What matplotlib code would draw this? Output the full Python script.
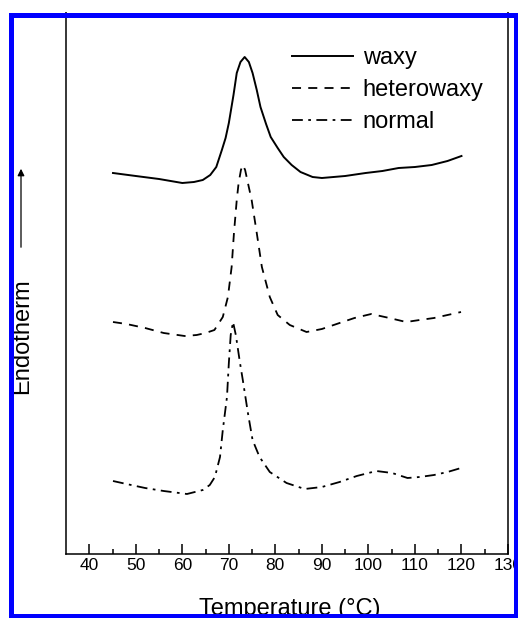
import numpy as np
import matplotlib.pyplot as plt
from matplotlib.patches import Rectangle

plt.rcParams['font.family'] = ['Liberation Sans', 'DejaVu Sans']

# DSC thermograms, heat flow in arbitrary units
waxy_T = [45.1, 50, 55, 60, 62.5, 64.4, 66, 67.3, 68.5, 69.3, 70, 71, 71.7, 72.5, 73.4,
          74.3, 75.1, 76, 76.8, 78, 79, 80.5, 81.8, 83.5, 85.4, 88, 90, 95, 99.4, 103,
          106.5, 110, 113.6, 117, 120]
waxy_hf = [381, 378, 375, 371, 372, 374, 379, 387, 404, 416, 431, 459, 481, 492, 497,
           492, 481, 464, 447, 430, 417, 406, 397, 389, 382, 377, 376, 378, 381, 383,
           386, 387, 389, 393, 398]

hetero_T = [45.1, 48, 52, 56, 60.5, 63.1, 65, 66.9, 68.7, 69.8, 70.6, 71.1, 71.7, 72.1,
            72.6, 73.0, 73.5, 74.1, 74.9, 76.0, 77.1, 78.8, 80.5, 83.1, 86.7, 90, 93.8,
            97, 100.6, 104.5, 108.1, 111, 114.1, 117, 119.9]
hetero_hf = [232, 230, 226, 221, 218, 219, 221, 224, 237, 257, 287, 321, 354, 371,
             384, 389, 384, 371, 354, 321, 287, 257, 239, 229, 222, 225, 231,
             236, 240, 236, 232, 234, 236, 239, 242]

normal_T = [45.1, 48, 52, 56, 61, 64.4, 65.9, 67, 68.1, 68.7, 69.6, 70, 70.4, 70.9, 71.5,
            72.4, 73, 74.1, 75.1, 76.6, 78.8, 82.4, 86.3, 90, 93.8, 97.5, 101.7, 105.1,
            108.4, 111, 114.1, 117, 119.9]
normal_hf = [73, 70, 66, 63, 60, 64, 69, 77, 97, 124, 157, 191, 219, 232, 219,
             191, 174, 141, 114, 97, 82, 71, 65, 67, 72, 78, 83, 81,
             76, 77, 79, 82, 86]

W, H = 518, 618
fig = plt.figure(figsize=(W / 100, H / 100), dpi=100)

def fx(px):
    return px / W

def fy(py):
    return 1 - py / H

ax = fig.add_axes([fx(66), fy(554), fx(508) - fx(66), fy(0) - fy(554)])

ax.plot(waxy_T, waxy_hf, color='black', lw=1.4, ls='-', label='waxy')
ax.plot(hetero_T, hetero_hf, color='black', lw=1.3, ls=(0, (5, 4)), label='heterowaxy')
ax.plot(normal_T, normal_hf, color='black', lw=1.3, ls=(0, (6, 3, 1.5, 3)), label='normal')

ax.set_xlim(35, 130)
ax.set_ylim(0, 554)
ax.set_xticks(np.arange(40, 131, 10))
ax.set_xticks(np.arange(45, 130, 10), minor=True)
ax.set_yticks([])
ax.tick_params(axis='x', which='major', direction='in', length=7, width=1.1,
               labelsize=12.5, pad=3)
ax.tick_params(axis='x', which='minor', direction='in', length=3.6, width=1.1)
ax.spines['top'].set_visible(False)
for s in ['left', 'right', 'bottom']:
    ax.spines[s].set_linewidth(1.1)

ax.legend(loc='upper left', bbox_to_anchor=(fx(292), fy(47)), bbox_transform=fig.transFigure,
          frameon=False, fontsize=17, handlelength=2.6, handletextpad=0.4,
          labelspacing=0.42, borderpad=0, borderaxespad=0)

fig.text(fx(22), fy(336), 'Endotherm', rotation=90, fontsize=17, ha='center', va='center')
fig.text(fx(290), fy(615), 'Temperature (°C)', fontsize=17, ha='center', va='baseline')
fig.add_artist(plt.matplotlib.text.Annotation(
    '', xy=(fx(21), fy(166)), xytext=(fx(21), fy(250)), xycoords='figure fraction',
    textcoords='figure fraction',
    arrowprops=dict(arrowstyle='-|>', color='black', lw=0.9, mutation_scale=10)))

# white margins and the blue frame round the picture
fig.add_artist(Rectangle((0, 0), fx(8), 1, transform=fig.transFigure,
                         facecolor='white', edgecolor='none', zorder=20))
fig.add_artist(Rectangle((0, fy(12)), 1, 1 - fy(12), transform=fig.transFigure,
                         facecolor='white', edgecolor='none', zorder=20))
fig.add_artist(Rectangle((fx(10.5), fy(616)), fx(516) - fx(10.5), fy(14.5) - fy(616),
                         transform=fig.transFigure, fill=False, edgecolor='#0000ff',
                         lw=3.6, zorder=21))

fig.savefig('out.png', dpi=100)
